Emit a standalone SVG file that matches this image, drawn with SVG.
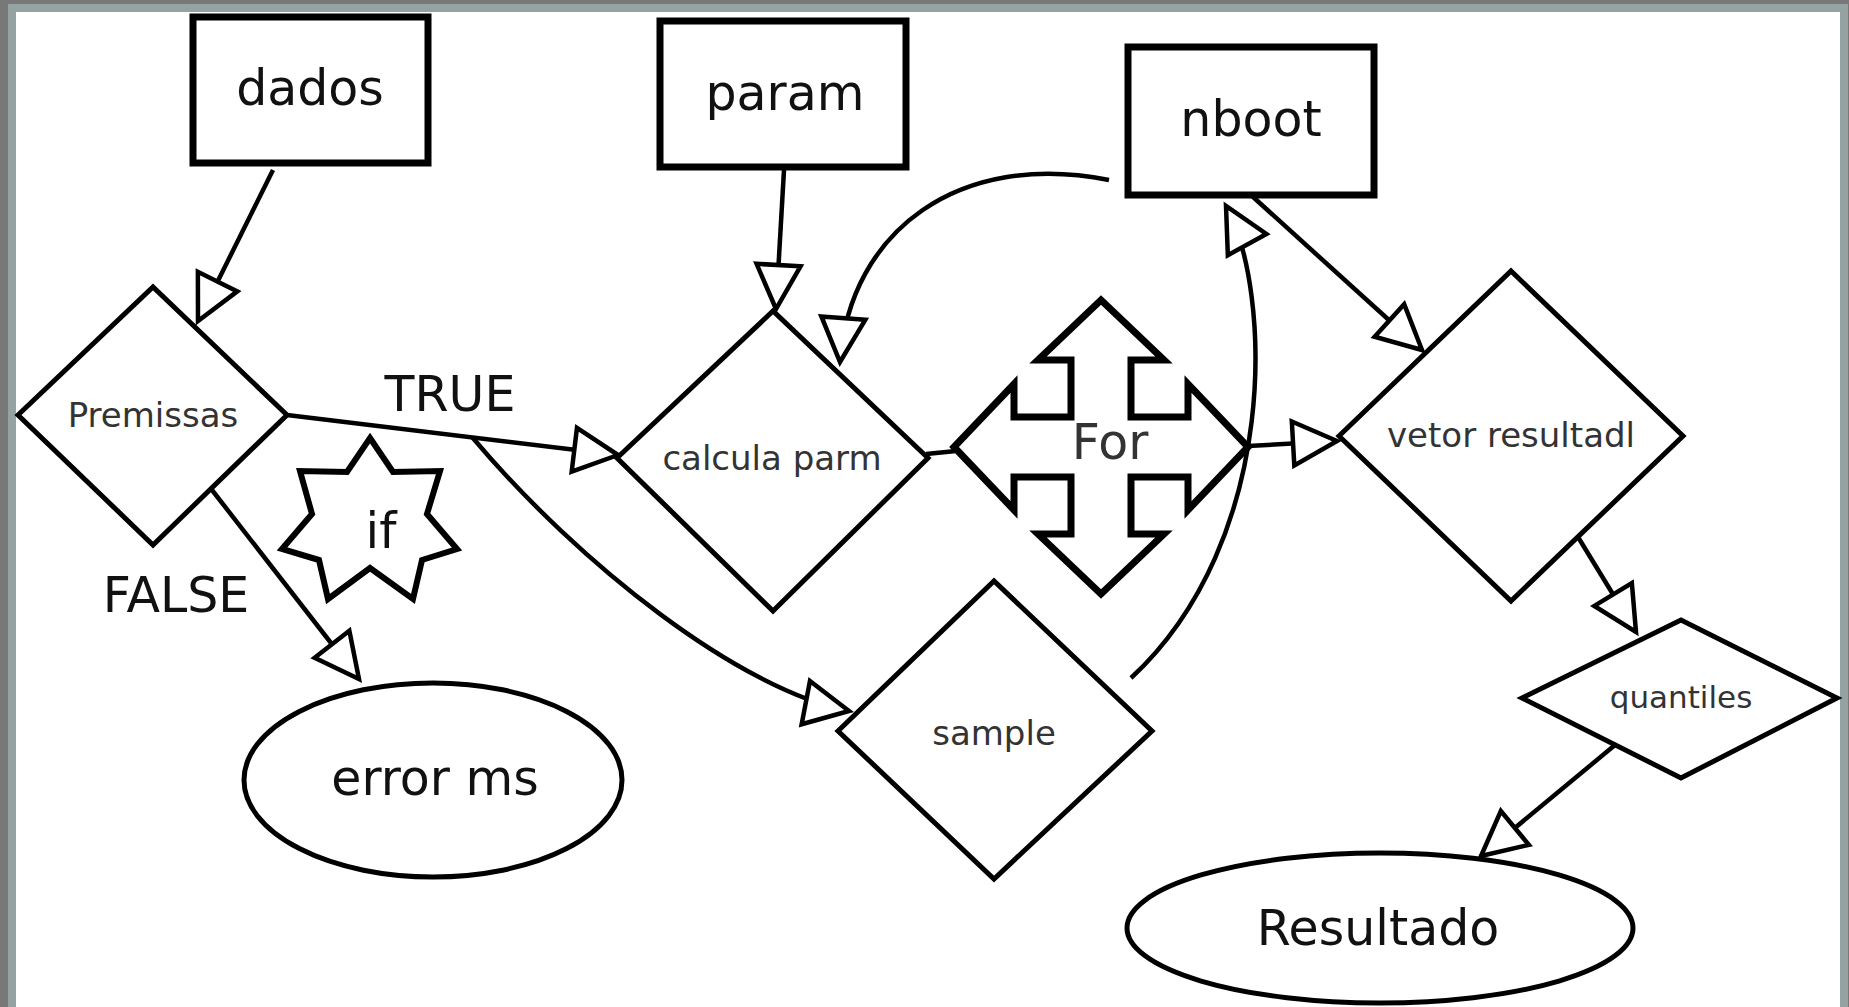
<svg xmlns="http://www.w3.org/2000/svg" width="1849" height="1007" viewBox="0 0 1849 1007">
<defs>
<style>
.box{fill:#fff;stroke:#000;stroke-width:7}
.dia{fill:#fff;stroke:#000;stroke-width:5;stroke-linejoin:miter}
.ell{fill:#fff;stroke:#000;stroke-width:5}
.big{font-family:"DejaVu Sans",sans-serif;font-size:49px;fill:#111;text-anchor:middle}
.sm{font-family:"DejaVu Sans",sans-serif;font-size:34px;fill:#333;text-anchor:middle}
.con{fill:none;stroke:#000;stroke-width:4.5}
</style>
<marker id="tri" markerUnits="userSpaceOnUse" markerWidth="60" markerHeight="60" refX="46" refY="24" orient="auto" overflow="visible">
<path d="M2,2 L46,24 L2,46 Z" fill="#fff" stroke="#000" stroke-width="4.5" stroke-linejoin="miter"/>
</marker>
</defs>
<rect width="1849" height="1007" fill="#787878"/>
<rect x="8" y="4" width="1840" height="1003" fill="#94a3a2"/>
<rect x="16" y="12" width="1824" height="995" fill="#fff"/>

<g id="connectors">
<path class="con" d="M273,170 L198,321" marker-end="url(#tri)"/>
<path class="con" d="M784,170 L776,309" marker-end="url(#tri)"/>
<path class="con" d="M287,415 L618,455" marker-end="url(#tri)"/>
<path class="con" d="M212,490 L359,679" marker-end="url(#tri)"/>
<path class="con" d="M472,437 C580,565 740,690 849,711" marker-end="url(#tri)"/>
<path class="con" d="M1131,678 C1280,540 1272,290 1226,206" marker-end="url(#tri)"/>
<path class="con" d="M1109,180 C960,150 850,230 840,362" marker-end="url(#tri)"/>
<path class="con" d="M1252,196 L1422,350" marker-end="url(#tri)"/>
<path class="con" d="M926,454 L956,451"/>
<path class="con" d="M1248,446 L1337,441" marker-end="url(#tri)"/>
<path class="con" d="M1578,537 L1636,632" marker-end="url(#tri)"/>
<path class="con" d="M1615,745 L1481,856" marker-end="url(#tri)"/>
<text class="big" x="450" y="411">TRUE</text>
<text class="big" x="176" y="612">FALSE</text>
</g>

<g id="dados">
<rect class="box" x="193" y="17" width="235" height="146"/>
<text class="big" x="310" y="105">dados</text>
</g>
<g id="param">
<rect class="box" x="660" y="21" width="246" height="146"/>
<text class="big" x="785" y="110">param</text>
</g>
<g id="nboot">
<rect class="box" x="1128" y="47" width="246" height="148"/>
<text class="big" x="1251" y="136">nboot</text>
</g>
<g id="premissas">
<polygon class="dia" points="18,415 153,287 287,415 153,545"/>
<text class="sm" x="153" y="427">Premissas</text>
</g>
<g id="calcula">
<polygon class="dia" points="617,458 773,311 928,458 773,611"/>
<text class="sm" x="772" y="470">calcula parm</text>
</g>
<g id="sample">
<polygon class="dia" points="838,731 994,581 1152,731 994,879"/>
<text class="sm" x="994" y="745">sample</text>
</g>
<g id="vetor">
<polygon class="dia" points="1339,436 1511,271 1683,436 1511,601"/>
<text class="sm" x="1511" y="447">vetor resultadl</text>
</g>
<g id="quantiles">
<polygon class="dia" points="1522,698 1681,620 1837,698 1681,778"/>
<text class="sm" x="1681" y="708" style="font-size:31px">quantiles</text>
</g>
<g id="error">
<ellipse class="ell" cx="433" cy="780" rx="189" ry="97"/>
<text class="big" x="435" y="795">error ms</text>
</g>
<g id="resultado">
<ellipse class="ell" cx="1380" cy="928" rx="253" ry="75"/>
<text class="big" x="1378" y="945">Resultado</text>
</g>
<g id="if">
<polygon class="dia" points="370,438 393,472 440,471 427,514 457,549 422,560 413,599 370,568 328,599 319,560 282,549 312,514 300,471 347,472" style="stroke-width:6"/>
<text class="big" x="381" y="548">if</text>
</g>
<g id="for">
<polygon fill="#fff" stroke="#000" stroke-width="7" points="1101,300 1164,360 1131,360 1131,417 1188,417 1188,384 1248,447 1188,510 1188,477 1131,477 1131,534 1164,534 1101,594 1038,534 1071,534 1071,477 1014,477 1014,510 954,447 1014,384 1014,417 1071,417 1071,360 1038,360"/>
<text class="big" x="1110" y="459" style="fill:#333">For</text>
</g>
</svg>
